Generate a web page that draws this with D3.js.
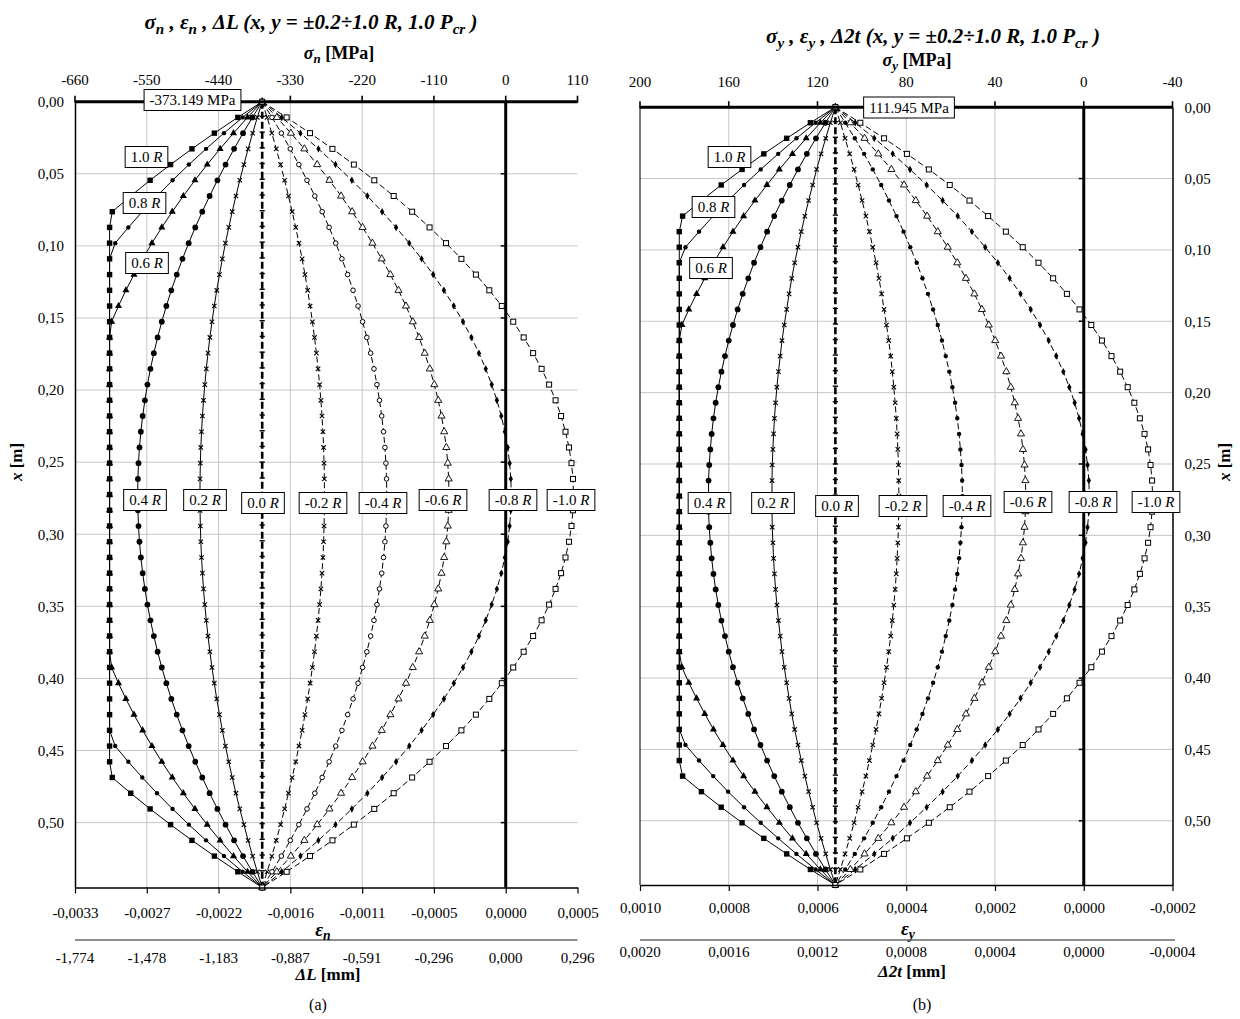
<!DOCTYPE html>
<html>
<head>
<meta charset="utf-8">
<script src="https://cdn.jsdelivr.net/npm/d3@7/dist/d3.min.js"></script>
<style>
  body { margin: 0; background: #fff; }
  svg text { font-family: "Liberation Serif", "Times New Roman", serif; fill: #000; }
</style>
</head>
<body>
<svg id="chart" width="1240" height="1019"></svg>
<script>
// Positions along the member, x [m]
const xPos = [0,0.0109,0.0218,0.0327,0.0436,0.0545,0.0654,0.0763,0.0872,0.0981,
  0.109,0.1199,0.1308,0.1417,0.1526,0.1635,0.1744,0.1853,0.1962,0.2071,
  0.218,0.2289,0.2398,0.2507,0.2616,0.2725,0.2834,0.2943,0.3052,0.3161,
  0.327,0.3379,0.3488,0.3597,0.3706,0.3815,0.3924,0.4033,0.4142,0.4251,
  0.436,0.4469,0.4578,0.4687,0.4796,0.4905,0.5014,0.5123,0.5232,0.5341,
  0.545];

const xTicks = [0,0.05,0.10,0.15,0.20,0.25,0.30,0.35,0.40,0.45,0.50];
const seriesNames = ["1.0","0.8","0.6","0.4","0.2","0.0","-0.2","-0.4","-0.6","-0.8","-1.0"];

// Panel (a): sigma_n axis ticks and secondary scales
const sigmaNTicks = [-660,-550,-440,-330,-220,-110,0,110];
const epsNLabels = ["-0,0033","-0,0027","-0,0022","-0,0016","-0,0011","-0,0005","0,0000","0,0005"];
const dLLabels = ["-1,774","-1,478","-1,183","-0,887","-0,591","-0,296","0,000","0,296"];

// Panel (b): sigma_y axis ticks and secondary scales
const sigmaYTicks = [200,160,120,80,40,0,-40];
const epsYLabels = ["0,0010","0,0008","0,0006","0,0004","0,0002","0,0000","-0,0002"];
const d2tLabels = ["0,0020","0,0016","0,0012","0,0008","0,0004","0,0000","-0,0004"];

// sigma_n [MPa] along x for y = 1.0R ... -1.0R
const sn_p10 = [-373.149,-410.5,-446.4,-480.8,-513.6,-544.9,-574.6,-602.9,-607,-607,
  -607,-607,-607,-607,-607,-607,-607,-607,-607,-607,
  -607,-607,-607,-607,-607,-607,-607,-607,-607,-607,
  -607,-607,-607,-607,-607,-607,-607,-607,-607,-607,
  -607,-607,-607,-602.9,-574.6,-544.9,-513.6,-480.8,-446.4,-410.5,
  -373.149];
const sn_p08 = [-373.149,-403.1,-431.8,-459.2,-485.5,-510.5,-534.3,-556.9,-578.3,-598.4,
  -607,-607,-607,-607,-607,-607,-607,-607,-607,-607,
  -607,-607,-607,-607,-607,-607,-607,-607,-607,-607,
  -607,-607,-607,-607,-607,-607,-607,-607,-607,-607,
  -607,-598.4,-578.3,-556.9,-534.3,-510.5,-485.5,-459.2,-431.8,-403.1,
  -373.149];
const sn_p06 = [-373.149,-395.6,-417.1,-437.7,-457.4,-476.2,-494.0,-511.0,-527.0,-542.1,
  -556.3,-569.6,-582.0,-593.4,-603.9,-607,-607,-607,-607,-607,
  -607,-607,-607,-607,-607,-607,-607,-607,-607,-607,
  -607,-607,-607,-607,-607,-607,-603.9,-593.4,-582.0,-569.6,
  -556.3,-542.1,-527.0,-511.0,-494.0,-476.2,-457.4,-437.7,-417.1,-395.6,
  -373.149];
const sn_p04 = [-373.149,-388.1,-402.5,-416.2,-429.3,-441.8,-453.7,-465.0,-475.7,-485.8,
  -495.3,-504.1,-512.4,-520.0,-527.0,-533.4,-539.2,-544.4,-549.0,-552.9,
  -556.3,-559.1,-561.2,-562.7,-563.6,-564.0,-563.6,-562.7,-561.2,-559.1,
  -556.3,-552.9,-549.0,-544.4,-539.2,-533.4,-527.0,-520.0,-512.4,-504.1,
  -495.3,-485.8,-475.7,-465.0,-453.7,-441.8,-429.3,-416.2,-402.5,-388.1,
  -373.149];
const sn_p02 = [-373.149,-380.6,-387.8,-394.7,-401.2,-407.5,-413.4,-419.1,-424.4,-429.5,
  -434.2,-438.6,-442.8,-446.6,-450.1,-453.3,-456.2,-458.8,-461.1,-463.1,
  -464.7,-466.1,-467.2,-467.9,-468.4,-468.5,-468.4,-467.9,-467.2,-466.1,
  -464.7,-463.1,-461.1,-458.8,-456.2,-453.3,-450.1,-446.6,-442.8,-438.6,
  -434.2,-429.5,-424.4,-419.1,-413.4,-407.5,-401.2,-394.7,-387.8,-380.6,
  -373.149];
const sn_000 = [-373.149,-373.149,-373.149,-373.149,-373.149,-373.149,-373.149,-373.149,-373.149,-373.149,
  -373.149,-373.149,-373.149,-373.149,-373.149,-373.149,-373.149,-373.149,-373.149,-373.149,
  -373.149,-373.149,-373.149,-373.149,-373.149,-373.149,-373.149,-373.149,-373.149,-373.149,
  -373.149,-373.149,-373.149,-373.149,-373.149,-373.149,-373.149,-373.149,-373.149,-373.149,
  -373.149,-373.149,-373.149,-373.149,-373.149,-373.149,-373.149,-373.149,-373.149,-373.149,
  -373.149];
const sn_m02 = [-373.149,-365.6,-358.4,-351.6,-345.0,-338.8,-332.9,-327.2,-321.8,-316.8,
  -312.0,-307.6,-303.5,-299.7,-296.2,-293.0,-290.1,-287.5,-285.2,-283.2,
  -281.5,-280.1,-279.1,-278.3,-277.9,-277.7,-277.9,-278.3,-279.1,-280.1,
  -281.5,-283.2,-285.2,-287.5,-290.1,-293.0,-296.2,-299.7,-303.5,-307.6,
  -312.0,-316.8,-321.8,-327.2,-332.9,-338.8,-345.0,-351.6,-358.4,-365.6,
  -373.149];
const sn_m04 = [-373.149,-358.1,-343.8,-330.1,-317.0,-304.5,-292.5,-281.2,-270.6,-260.5,
  -251.0,-242.2,-233.9,-226.3,-219.3,-212.8,-207.0,-201.9,-197.3,-193.4,
  -190.0,-187.2,-185.1,-183.6,-182.6,-182.3,-182.6,-183.6,-185.1,-187.2,
  -190.0,-193.4,-197.3,-201.9,-207.0,-212.8,-219.3,-226.3,-233.9,-242.2,
  -251.0,-260.5,-270.6,-281.2,-292.5,-304.5,-317.0,-330.1,-343.8,-358.1,
  -373.149];
const sn_m06 = [-373.149,-350.7,-329.2,-308.5,-288.9,-270.1,-252.3,-235.3,-219.3,-204.2,
  -190.0,-176.7,-164.3,-152.8,-142.4,-132.7,-124.1,-116.3,-109.4,-103.4,
  -98.4,-94.3,-91.0,-88.8,-87.4,-87.0,-87.4,-88.8,-91.0,-94.3,
  -98.4,-103.4,-109.4,-116.3,-124.1,-132.7,-142.4,-152.8,-164.3,-176.7,
  -190.0,-204.2,-219.3,-235.3,-252.3,-270.1,-288.9,-308.5,-329.2,-350.7,
  -373.149];
const sn_m08 = [-373.149,-343.2,-314.5,-287.0,-260.8,-235.8,-212.0,-189.4,-168.0,-147.8,
  -128.9,-111.2,-94.7,-79.5,-65.4,-52.6,-41.0,-30.6,-21.5,-13.5,
  -6.8,-1.3,3.0,6.0,7.8,8.5,7.8,6.0,3.0,-1.3,
  -6.8,-13.5,-21.5,-30.6,-41.0,-52.6,-65.4,-79.5,-94.7,-111.2,
  -128.9,-147.8,-168.0,-189.4,-212.0,-235.8,-260.8,-287.0,-314.5,-343.2,
  -373.149];
const sn_m10 = [-373.149,-335.7,-299.9,-265.5,-232.7,-201.4,-171.7,-143.4,-116.7,-91.5,
  -67.9,-45.7,-25.1,-6.0,11.5,27.5,42.0,55.0,66.5,76.4,
  84.8,91.6,97.0,100.8,103.1,103.8,103.1,100.8,97.0,91.6,
  84.8,76.4,66.5,55.0,42.0,27.5,11.5,-6.0,-25.1,-45.7,
  -67.9,-91.5,-116.7,-143.4,-171.7,-201.4,-232.7,-265.5,-299.9,-335.7,
  -373.149];

// sigma_y [MPa] along x for y = 1.0R ... -1.0R
const sy_p10 = [111.945,123.2,133.9,144.2,154.0,163.4,172.3,180.8,182.3,182.3,
  182.3,182.3,182.3,182.3,182.3,182.3,182.3,182.3,182.3,182.3,
  182.3,182.3,182.3,182.3,182.3,182.3,182.3,182.3,182.3,182.3,
  182.3,182.3,182.3,182.3,182.3,182.3,182.3,182.3,182.3,182.3,
  182.3,182.3,182.3,180.8,172.3,163.4,154.0,144.2,133.9,123.2,
  111.945];
const sy_p08 = [111.945,120.9,129.5,137.7,145.6,153.1,160.3,167.0,173.4,179.5,
  182.3,182.3,182.3,182.3,182.3,182.3,182.3,182.3,182.3,182.3,
  182.3,182.3,182.3,182.3,182.3,182.3,182.3,182.3,182.3,182.3,
  182.3,182.3,182.3,182.3,182.3,182.3,182.3,182.3,182.3,182.3,
  182.3,179.5,173.4,167.0,160.3,153.1,145.6,137.7,129.5,120.9,
  111.945];
const sy_p06 = [111.945,118.7,125.1,131.3,137.2,142.8,148.2,153.3,158.1,162.6,
  166.9,170.8,174.5,178.0,181.1,182.3,182.3,182.3,182.3,182.3,
  182.3,182.3,182.3,182.3,182.3,182.3,182.3,182.3,182.3,182.3,
  182.3,182.3,182.3,182.3,182.3,182.3,181.1,178.0,174.5,170.8,
  166.9,162.6,158.1,153.3,148.2,142.8,137.2,131.3,125.1,118.7,
  111.945];
const sy_p04 = [111.945,116.4,120.7,124.8,128.8,132.5,136.1,139.5,142.7,145.7,
  148.6,151.2,153.7,156.0,158.1,160.0,161.7,163.3,164.7,165.9,
  166.9,167.7,168.3,168.8,169.1,169.1,169.1,168.8,168.3,167.7,
  166.9,165.9,164.7,163.3,161.7,160.0,158.1,156.0,153.7,151.2,
  148.6,145.7,142.7,139.5,136.1,132.5,128.8,124.8,120.7,116.4,
  111.945];
const sy_p02 = [111.945,114.2,116.3,118.4,120.4,122.2,124.0,125.7,127.3,128.8,
  130.3,131.6,132.8,133.9,135.0,136.0,136.8,137.6,138.3,138.9,
  139.4,139.8,140.1,140.4,140.5,140.5,140.5,140.4,140.1,139.8,
  139.4,138.9,138.3,137.6,136.8,136.0,135.0,133.9,132.8,131.6,
  130.3,128.8,127.3,125.7,124.0,122.2,120.4,118.4,116.3,114.2,
  111.945];
const sy_000 = [111.945,111.945,111.945,111.945,111.945,111.945,111.945,111.945,111.945,111.945,
  111.945,111.945,111.945,111.945,111.945,111.945,111.945,111.945,111.945,111.945,
  111.945,111.945,111.945,111.945,111.945,111.945,111.945,111.945,111.945,111.945,
  111.945,111.945,111.945,111.945,111.945,111.945,111.945,111.945,111.945,111.945,
  111.945,111.945,111.945,111.945,111.945,111.945,111.945,111.945,111.945,111.945,
  111.945];
const sy_m02 = [111.945,109.7,107.6,105.5,103.5,101.7,99.9,98.2,96.6,95.1,
  93.6,92.3,91.1,90.0,88.9,87.9,87.0,86.3,85.6,85.0,
  84.5,84.1,83.8,83.5,83.4,83.3,83.4,83.5,83.8,84.1,
  84.5,85.0,85.6,86.3,87.0,87.9,88.9,90.0,91.1,92.3,
  93.6,95.1,96.6,98.2,99.9,101.7,103.5,105.5,107.6,109.7,
  111.945];
const sy_m04 = [111.945,107.5,103.2,99.0,95.1,91.3,87.8,84.4,81.2,78.2,
  75.3,72.7,70.2,67.9,65.8,63.9,62.2,60.6,59.2,58.0,
  57.0,56.2,55.6,55.1,54.8,54.7,54.8,55.1,55.6,56.2,
  57.0,58.0,59.2,60.6,62.2,63.9,65.8,67.9,70.2,72.7,
  75.3,78.2,81.2,84.4,87.8,91.3,95.1,99.0,103.2,107.5,
  111.945];
const sy_m06 = [111.945,105.2,98.8,92.6,86.7,81.0,75.7,70.6,65.8,61.3,
  57.0,53.1,49.3,45.9,42.8,39.9,37.3,34.9,32.9,31.1,
  29.6,28.3,27.4,26.7,26.3,26.1,26.3,26.7,27.4,28.3,
  29.6,31.1,32.9,34.9,37.3,39.9,42.8,45.9,49.3,53.1,
  57.0,61.3,65.8,70.6,75.7,81.0,86.7,92.6,98.8,105.2,
  111.945];
const sy_m08 = [111.945,103.0,94.4,86.1,78.3,70.8,63.6,56.8,50.4,44.4,
  38.7,33.4,28.5,23.9,19.7,15.8,12.4,9.2,6.5,4.1,
  2.1,0.5,-0.8,-1.7,-2.3,-2.5,-2.3,-1.7,-0.8,0.5,
  2.1,4.1,6.5,9.2,12.4,15.8,19.7,23.9,28.5,33.4,
  38.7,44.4,50.4,56.8,63.6,70.8,78.3,86.1,94.4,103.0,
  111.945];
const sy_m10 = [111.945,100.7,90.0,79.7,69.8,60.4,51.5,43.1,35.1,27.5,
  20.4,13.8,7.6,1.9,-3.4,-8.2,-12.5,-16.4,-19.8,-22.8,
  -25.3,-27.4,-29.0,-30.1,-30.8,-31.0,-30.8,-30.1,-29.0,-27.4,
  -25.3,-22.8,-19.8,-16.4,-12.5,-8.2,-3.4,1.9,7.6,13.8,
  20.4,27.5,35.1,43.1,51.5,60.4,69.8,79.7,90.0,100.7,
  111.945];

const svg = d3.select("#chart");
const fmtX = d => d.toFixed(2).replace(".", ",");

// Mixed-style text: parts are [text, {i, b, sub}]
function rich(sel, parts, subShift = 4) {
  let shifted = false;
  parts.forEach(([t, o = {}]) => {
    const ts = sel.append("tspan").text(t);
    if (o.i) ts.attr("font-style", "italic");
    if (o.b) ts.attr("font-weight", "bold");
    if (o.sub) {
      ts.attr("font-size", "0.72em");
      if (!shifted) { ts.attr("dy", subShift); shifted = true; }
    } else if (shifted) {
      ts.attr("dy", -subShift); shifted = false;
    }
  });
  return sel;
}

function marker(g, type, x, y) {
  switch (type) {
    case "sq":
      g.append("rect").attr("x", x - 2.7).attr("y", y - 2.7).attr("width", 5.4).attr("height", 5.4).attr("fill", "#000"); break;
    case "osq":
      g.append("rect").attr("x", x - 2.5).attr("y", y - 2.5).attr("width", 5).attr("height", 5)
        .attr("fill", "#fff").attr("stroke", "#000").attr("stroke-width", 1); break;
    case "dot":
      g.append("circle").attr("cx", x).attr("cy", y).attr("r", 2.2).attr("fill", "#000"); break;
    case "dotL":
      g.append("circle").attr("cx", x).attr("cy", y).attr("r", 2.9).attr("fill", "#000"); break;
    case "ocirc":
      g.append("circle").attr("cx", x).attr("cy", y).attr("r", 2.3).attr("fill", "#fff").attr("stroke", "#000").attr("stroke-width", 1); break;
    case "tri":
      g.append("path").attr("d", d3.symbol(d3.symbolTriangle, 22)()).attr("transform", `translate(${x},${y})`).attr("fill", "#000"); break;
    case "otri":
      g.append("path").attr("d", d3.symbol(d3.symbolTriangle, 22)()).attr("transform", `translate(${x},${y})`)
        .attr("fill", "#fff").attr("stroke", "#000").attr("stroke-width", 0.9); break;
    case "dia":
      g.append("path").attr("d", d3.symbol(d3.symbolDiamond, 16)()).attr("transform", `translate(${x},${y})`).attr("fill", "#000"); break;
    case "x":
      g.append("path").attr("d", `M${x-2.2},${y-2.2}L${x+2.2},${y+2.2}M${x-2.2},${y+2.2}L${x+2.2},${y-2.2}`)
        .attr("stroke", "#000").attr("stroke-width", 1.1).attr("fill", "none"); break;
    case "bar":
      g.append("line").attr("x1", x - 2.6).attr("x2", x + 2.6).attr("y1", y - 1).attr("y2", y - 1)
        .attr("stroke", "#000").attr("stroke-width", 1.4); break;
  }
}

function boxLabel(g, cx, cy, parts, fs = 15) {
  const t = g.append("text").attr("x", cx).attr("y", cy).attr("text-anchor", "middle")
    .attr("dominant-baseline", "central").style("font-size", fs + "px");
  rich(t, parts);
  const w = t.node().getComputedTextLength();
  g.insert("rect", () => t.node())
    .attr("x", cx - w / 2 - 5.5).attr("y", cy - 10.5).attr("width", w + 11).attr("height", 21)
    .attr("fill", "#fff").attr("stroke", "#000").attr("stroke-width", 1);
}

function rLabel(name) { return [[name + " "], ["R", { i: true }]]; }

function drawPanel(p) {
  const g = svg.append("g");
  const sx = d3.scaleLinear().domain(p.sDomain).range([p.x0, p.x1]);
  const sy = d3.scaleLinear().domain([0, 0.545]).range([p.yTop, p.yBot]);

  // grid
  g.append("g").selectAll("line").data(p.sTicks.filter(t => t !== 0 && t !== p.sDomain[0] && t !== p.sDomain[1]))
    .join("line").attr("x1", d => sx(d)).attr("x2", d => sx(d)).attr("y1", p.yTop).attr("y2", p.yBot)
    .attr("stroke", "#c6c6c6").attr("stroke-width", 1);
  g.append("g").selectAll("line").data(xTicks.slice(1))
    .join("line").attr("x1", p.x0).attr("x2", p.x1).attr("y1", d => sy(d)).attr("y2", d => sy(d))
    .attr("stroke", "#c6c6c6").attr("stroke-width", 1);

  // zero-stress line with small ticks
  const z = sx(0);
  g.append("line").attr("x1", z).attr("x2", z).attr("y1", p.yTop).attr("y2", p.yBot).attr("stroke", "#000").attr("stroke-width", 3);
  g.append("g").selectAll("line").data(xTicks.slice(1)).join("line")
    .attr("x1", z - 5).attr("x2", z).attr("y1", d => sy(d)).attr("y2", d => sy(d)).attr("stroke", "#000").attr("stroke-width", 1.5);

  // curves
  const line = d3.line().x(d => sx(d[1])).y(d => sy(d[0]));
  p.series.forEach((vals, i) => {
    const pts = xPos.map((x, k) => [x, vals[k]]);
    const path = g.append("path").attr("d", line(pts)).attr("fill", "none").attr("stroke", "#000");
    if (i < 5) path.attr("stroke-width", 1);
    else if (i === 5) path.attr("stroke-width", 2.6).attr("stroke-dasharray", "7,3");
    else path.attr("stroke-width", 1).attr("stroke-dasharray", "6,3");
  });
  p.series.forEach((vals, i) => {
    const mg = g.append("g");
    xPos.forEach((x, k) => marker(mg, p.markers[i], sx(vals[k]), sy(x)));
  });

  // left border (panel b) / y axis
  if (p.leftBorder) g.append("line").attr("x1", p.x0).attr("x2", p.x0).attr("y1", p.yTop).attr("y2", p.yBot).attr("stroke", "#222").attr("stroke-width", 1.2);
  const yAxis = p.yAxisRight
    ? d3.axisRight(sy).tickValues(xTicks).tickSize(0).tickPadding(12).tickFormat(fmtX)
    : d3.axisLeft(sy).tickValues(xTicks).tickSize(0).tickPadding(11).tickFormat(fmtX);
  const ya = g.append("g").attr("transform", `translate(${p.yAxisRight ? p.x1 : p.x0},0)`).call(yAxis);
  ya.select(".domain").attr("stroke", "#000").attr("stroke-width", 1.5);
  ya.selectAll("text").style("font-size", "15px").style("font-family", '"Liberation Serif", serif');

  // top axis
  g.append("line").attr("x1", p.x0).attr("x2", p.x1).attr("y1", p.yTop).attr("y2", p.yTop).attr("stroke", "#000").attr("stroke-width", 3);
  g.append("g").selectAll("line").data(p.sTicks).join("line")
    .attr("x1", d => sx(d)).attr("x2", d => sx(d)).attr("y1", p.yTop - 6).attr("y2", p.yTop + 1)
    .attr("stroke", "#000").attr("stroke-width", 1.6);
  g.append("g").selectAll("text").data(p.sTicks).join("text")
    .attr("x", d => sx(d)).attr("y", p.topLabelY).attr("text-anchor", "middle").style("font-size", "15px")
    .text(d => String(d));

  // bottom axis with strain and displacement scales
  const xa = d3.axisBottom(sx).tickValues(p.sTicks).tickSize(6).tickSizeOuter(0).tickFormat((d, i) => p.epsLabels[i]);
  const ba = g.append("g").attr("transform", `translate(0,${p.yBot})`).call(xa);
  ba.select(".domain").attr("stroke", "#000").attr("stroke-width", 1.5);
  ba.selectAll(".tick line").attr("stroke", "#000").attr("stroke-width", 1.2);
  ba.selectAll("text").attr("y", p.epsLabelY - p.yBot).attr("dy", 0)
    .style("font-size", "15px").style("font-family", '"Liberation Serif", serif');
  g.append("line").attr("x1", p.x0).attr("x2", p.sepEnd).attr("y1", 940).attr("y2", 940).attr("stroke", "#6a6a6a").attr("stroke-width", 1.5);
  g.append("g").selectAll("text").data(p.sTicks).join("text")
    .attr("x", d => sx(d)).attr("y", p.dispLabelY).attr("text-anchor", "middle").style("font-size", "15px")
    .text((d, i) => p.dispLabels[i]);

  // titles
  rich(g.append("text").attr("x", p.titleX).attr("y", p.titleY).attr("text-anchor", "middle")
    .style("font-size", "21px").attr("font-weight", "bold").attr("font-style", "italic"), p.title, 5);
  rich(g.append("text").attr("x", p.sTitleX).attr("y", p.sTitleY).attr("text-anchor", "middle").style("font-size", "18px"), p.sTitle);
  rich(g.append("text").attr("x", p.eTitleX).attr("y", p.eTitleY).attr("text-anchor", "middle").style("font-size", "19px"), p.eTitle);
  rich(g.append("text").attr("x", p.dTitleX).attr("y", p.dTitleY).attr("text-anchor", "middle").style("font-size", "17px"), p.dTitle);
  rich(g.append("text").attr("transform", `translate(${p.xTitleX},${p.xTitleY}) rotate(-90)`).attr("text-anchor", "middle").style("font-size", "17px"),
    [["x", { b: true, i: true }], ["  [m]", { b: true }]]);
  g.append("text").attr("x", p.capX).attr("y", 1010).attr("text-anchor", "middle").style("font-size", "16px").text(p.caption);

  // annotations
  const lg = g.append("g");
  boxLabel(lg, p.peakLabel[0], p.peakLabel[1], [[p.series[5][0] + " MPa"]]);
  p.upperLabels.forEach(([idx, cx, cy]) => boxLabel(lg, cx, cy, rLabel(seriesNames[idx])));
  p.rowLabels.forEach(([idx, cx, cy]) => boxLabel(lg, cx, cy, rLabel(seriesNames[idx])));
}

drawPanel({
  x0: 75, x1: 577.5, yTop: 101.7, yBot: 887.5, sDomain: [-660, 110], sTicks: sigmaNTicks,
  epsLabels: epsNLabels, dispLabels: dLLabels, epsLabelY: 918, dispLabelY: 963, sepEnd: 577.5,
  topLabelY: 85, yAxisRight: false, leftBorder: false,
  series: [sn_p10, sn_p08, sn_p06, sn_p04, sn_p02, sn_000, sn_m02, sn_m04, sn_m06, sn_m08, sn_m10],
  markers: ["sq", "dot", "tri", "dotL", "x", "bar", "x", "ocirc", "otri", "dia", "osq"],
  title: [["σ"], ["n", { sub: true }], [" , ε"], ["n", { sub: true }], [" , ΔL (x, y = ±0.2÷1.0 R, 1.0 P"], ["cr", { sub: true }], [" )"]],
  titleX: 311, titleY: 29,
  sTitle: [["σ", { b: true, i: true }], ["n", { b: true, i: true, sub: true }], [" [MPa]", { b: true }]],
  sTitleX: 339, sTitleY: 59,
  eTitle: [["ε", { b: true, i: true }], ["n", { b: true, i: true, sub: true }]], eTitleX: 323, eTitleY: 936,
  dTitle: [["ΔL", { b: true, i: true }], [" [mm]", { b: true }]], dTitleX: 328, dTitleY: 980,
  xTitleX: 22, xTitleY: 462, capX: 318, caption: "(a)",
  peakLabel: [192.5, 100],
  upperLabels: [[0, 146.5, 157], [1, 144.5, 203], [2, 147, 263]],
  rowLabels: [[3, 145, 500], [4, 205, 500], [5, 263, 503], [6, 323, 503], [7, 383, 503], [8, 443, 500], [9, 513, 500], [10, 571, 500]]
});

drawPanel({
  x0: 640, x1: 1172.5, yTop: 107.2, yBot: 885, sDomain: [200, -40], sTicks: sigmaYTicks,
  epsLabels: epsYLabels, dispLabels: d2tLabels, epsLabelY: 913, dispLabelY: 957, sepEnd: 1175,
  topLabelY: 87, yAxisRight: true, leftBorder: true,
  series: [sy_p10, sy_p08, sy_p06, sy_p04, sy_p02, sy_000, sy_m02, sy_m04, sy_m06, sy_m08, sy_m10],
  markers: ["sq", "dot", "tri", "dotL", "x", "bar", "x", "dot", "otri", "dia", "osq"],
  title: [["σ"], ["y", { sub: true }], [" , ε"], ["y", { sub: true }], [" , Δ2t (x, y = ±0.2÷1.0 R, 1.0 P"], ["cr", { sub: true }], [" )"]],
  titleX: 933, titleY: 43,
  sTitle: [["σ", { b: true, i: true }], ["y", { b: true, i: true, sub: true }], [" [MPa]", { b: true }]],
  sTitleX: 917, sTitleY: 66,
  eTitle: [["ε", { b: true, i: true }], ["y", { b: true, i: true, sub: true }]], eTitleX: 908, eTitleY: 935,
  dTitle: [["Δ", { b: true, i: true }], ["2t", { b: true, i: true }], ["  [mm]", { b: true }]], dTitleX: 912, dTitleY: 977,
  xTitleX: 1230, xTitleY: 462, capX: 922, caption: "(b)",
  peakLabel: [909, 107.5],
  upperLabels: [[0, 729.5, 157], [1, 713.5, 207], [2, 711, 268]],
  rowLabels: [[3, 709.5, 503], [4, 773, 503], [5, 837, 506], [6, 903, 506], [7, 967, 506], [8, 1028, 502], [9, 1093, 502], [10, 1156, 502]]
});
</script>
</body>
</html>
